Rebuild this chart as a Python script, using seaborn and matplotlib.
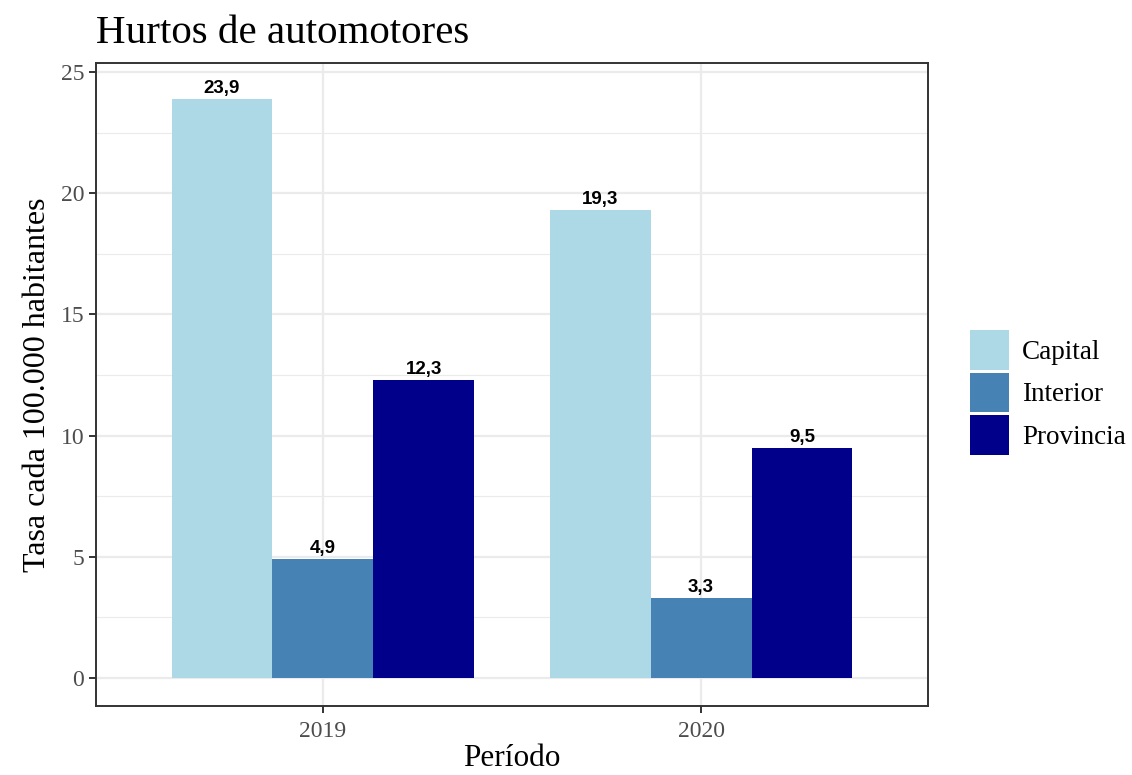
import pandas as pd
import matplotlib.pyplot as plt
import seaborn as sns
from matplotlib.ticker import MultipleLocator

# datos
periodos = ['2019', '2020']
regiones = ['Capital', 'Interior', 'Provincia']
tasa_capital = [23.9, 19.3]
tasa_interior = [4.9, 3.3]
tasa_provincia = [12.3, 9.5]
colores = ['#ADD8E6', '#4682B4', '#00008B']

df = pd.DataFrame({
    'periodo': periodos * 3,
    'region': [r for r in regiones for _ in periodos],
    'tasa': tasa_capital + tasa_interior + tasa_provincia,
})

sns.set_theme(style='white')
plt.rcParams['font.family'] = ['Liberation Serif', 'DejaVu Serif']
plt.rcParams['text.color'] = 'black'

fig = plt.figure(figsize=(11.32, 7.75), dpi=100)
ax = fig.add_axes([96 / 1132, 1 - 706 / 775, (928 - 96) / 1132, (706 - 63) / 775])

sns.barplot(data=df, x='periodo', y='tasa', hue='region', order=periodos, hue_order=regiones,
            palette=colores, width=0.8, saturation=1, linewidth=0, ax=ax, zorder=3)

for cont in ax.containers:
    etiquetas = [f"{b.get_height():.1f}".replace('.', ',') for b in cont]
    ax.bar_label(cont, labels=etiquetas, padding=1.5, fontsize=13.5, fontweight='bold',
                 color='black', family=['Liberation Sans', 'DejaVu Sans'])

# ejes estilo theme_bw
ax.set_xlim(-0.6, 1.6)
ax.set_ylim(-1.155, 25.37)
ax.yaxis.set_major_locator(MultipleLocator(5))
ax.yaxis.set_minor_locator(MultipleLocator(2.5))
ax.grid(True, which='major', color='#EBEBEB', linewidth=1.6, zorder=0)
ax.grid(True, which='minor', axis='y', color='#EBEBEB', linewidth=0.8, zorder=0)
ax.set_axisbelow(True)
for s in ax.spines.values():
    s.set_color('#333333')
    s.set_linewidth(1.4)
ax.tick_params(axis='both', which='major', length=5, width=1.4, color='#333333',
               labelcolor='#4D4D4D', labelsize=17, left=True, bottom=True)
ax.tick_params(axis='x', pad=6)
ax.tick_params(axis='y', which='minor', length=0)

ax.set_xlabel('Período', fontsize=22.5, labelpad=1, color='black')
ax.set_ylabel('Tasa cada 100.000 habitantes', fontsize=23, labelpad=6, color='black')
fig.text(96 / 1132, 1 - 43 / 775, 'Hurtos de automotores', fontsize=29.5, va='baseline', ha='left',
         color='black')

ax.legend(loc='center left', bbox_to_anchor=(1.05, 0.4876), frameon=False, fontsize=19.5,
          handlelength=1.44, handleheight=1.85, handletextpad=0.5, labelspacing=0.12,
          borderaxespad=0, borderpad=0, title=None)

fig.savefig('out.png', dpi=100)
